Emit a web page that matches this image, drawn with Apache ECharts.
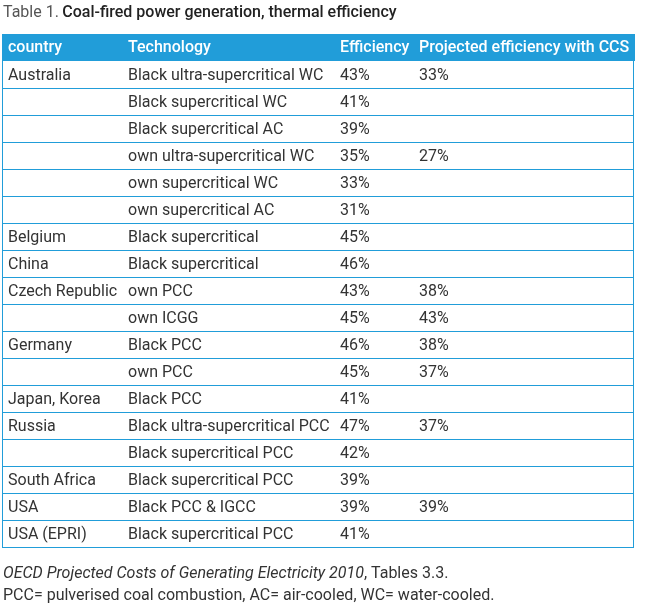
<!DOCTYPE html>
<html>
<head>
<meta charset="utf-8">
<script src="https://cdn.jsdelivr.net/npm/echarts@6/dist/echarts.min.js"></script>
<style>
html,body{margin:0;padding:0;background:#fff;}
#main{width:645px;height:606px;}
</style>
</head>
<body>
<div id="main"></div>
<script>
// ---- data ----
var headers = ['country', 'Technology', 'Efficiency', 'Projected efficiency with CCS'];
var countries = ['Australia', '', '', '', '', '', 'Belgium', 'China', 'Czech Republic', '', 'Germany', '', 'Japan, Korea', 'Russia', '', 'South Africa', 'USA', 'USA (EPRI)'];
var technology = ['Black ultra-supercritical WC', 'Black supercritical WC', 'Black supercritical AC', 'own ultra-supercritical WC', 'own supercritical WC', 'own supercritical AC', 'Black supercritical', 'Black supercritical', 'own PCC', 'own ICGG', 'Black PCC', 'own PCC', 'Black PCC', 'Black ultra-supercritical PCC', 'Black supercritical PCC', 'Black supercritical PCC', 'Black PCC & IGCC', 'Black supercritical PCC'];
var efficiency = [43, 41, 39, 35, 33, 31, 45, 46, 43, 45, 46, 45, 41, 47, 42, 39, 39, 41];
var efficiencyCCS = [33, null, null, 27, null, null, null, null, 38, 43, 38, 37, null, 37, null, null, 39, null];
var titleLead = 'Table 1.';
var titleText = 'Coal-fired power generation, thermal efficiency';
var sourceItalic = 'OECD Projected Costs of Generating Electricity 2010';
var sourceRest = ', Tables 3.3.';
var noteText = 'PCC= pulverised coal combustion, AC= air-cooled, WC= water-cooled.';

// ---- layout (not data) ----
var colX = [6, 126, 338, 417];
var BLUE = '#219dd9';
var TEXT = '#333333';
var FONT = 'Roboto';
var FS = 16;

var rowIdx = countries.map(function (_, i) { return i; });
var rows = rowIdx.map(function (i) { return [0, i]; });

var chart = echarts.init(document.getElementById('main'), null, { renderer: 'canvas' });

function pct(v) { return v == null ? '' : v + '%'; }

var option = {
  animation: false,
  backgroundColor: '#ffffff',
  grid: { left: 2, right: 11, top: 61, bottom: 59 },
  xAxis: { type: 'value', min: 0, max: 632, show: false },
  yAxis: { type: 'category', data: rowIdx, inverse: true, show: false, boundaryGap: true },
  graphic: [
    {
      type: 'text', x: 3, y: 13,
      style: {
        verticalAlign: 'middle',
        rich: {
          a: { fontFamily: FONT, fontSize: 16, fill: '#555555' },
          b: { fontFamily: FONT, fontSize: 16, fill: '#222222', fontWeight: 500 }
        },
        text: '{a|' + titleLead + '} {b|' + titleText + '}'
      }
    },
    { type: 'rect', shape: { x: 2, y: 34, width: 633, height: 27 }, style: { fill: BLUE } }
  ].concat(headers.map(function (h, i) {
    return {
      type: 'text', x: 2 + colX[i], y: 48,
      style: { text: h, fill: '#ffffff', fontFamily: FONT, fontSize: FS, fontWeight: 500, verticalAlign: 'middle' }
    };
  })).concat([
    {
      type: 'text', x: 3, y: 574,
      style: {
        verticalAlign: 'middle',
        rich: {
          i: { fontFamily: FONT, fontSize: 16, fill: TEXT, fontStyle: 'italic' },
          n: { fontFamily: FONT, fontSize: 16, fill: TEXT }
        },
        text: '{i|' + sourceItalic + '}{n|' + sourceRest + '}'
      }
    },
    {
      type: 'text', x: 3, y: 596,
      style: { text: noteText, fontFamily: FONT, fontSize: 16, fill: TEXT, verticalAlign: 'middle' }
    }
  ]),
  series: [{
    type: 'custom',
    coordinateSystem: 'cartesian2d',
    data: rows,
    renderItem: function (params, api) {
      var r = api.value(1);
      var c = api.coord([0, r]);
      var h = api.size([0, 1])[1];
      var yc = c[1];
      var yb = Math.round(yc + h / 2) + 0.5;
      var yt = Math.round(yc - h / 2);
      var xl = api.coord([0, r])[0];
      var xr = api.coord([632, r])[0];
      var vals = [countries[r], technology[r], pct(efficiency[r]), pct(efficiencyCCS[r])];
      var children = [];
      vals.forEach(function (v, i) {
        if (!v) return;
        children.push({
          type: 'text',
          x: api.coord([colX[i], r])[0], y: yc + 1,
          style: { text: v, fill: TEXT, fontFamily: FONT, fontSize: FS, verticalAlign: 'middle' }
        });
      });
      children.push({ type: 'line', shape: { x1: xl, y1: yb, x2: xr, y2: yb }, style: { stroke: BLUE, lineWidth: 1 } });
      children.push({ type: 'line', shape: { x1: xl + 0.5, y1: yt, x2: xl + 0.5, y2: yb }, style: { stroke: BLUE, lineWidth: 1 } });
      children.push({ type: 'line', shape: { x1: xr - 0.5, y1: yt, x2: xr - 0.5, y2: yb }, style: { stroke: BLUE, lineWidth: 1 } });
      return { type: 'group', children: children };
    }
  }]
};
chart.setOption(option);
</script>
</body>
</html>
